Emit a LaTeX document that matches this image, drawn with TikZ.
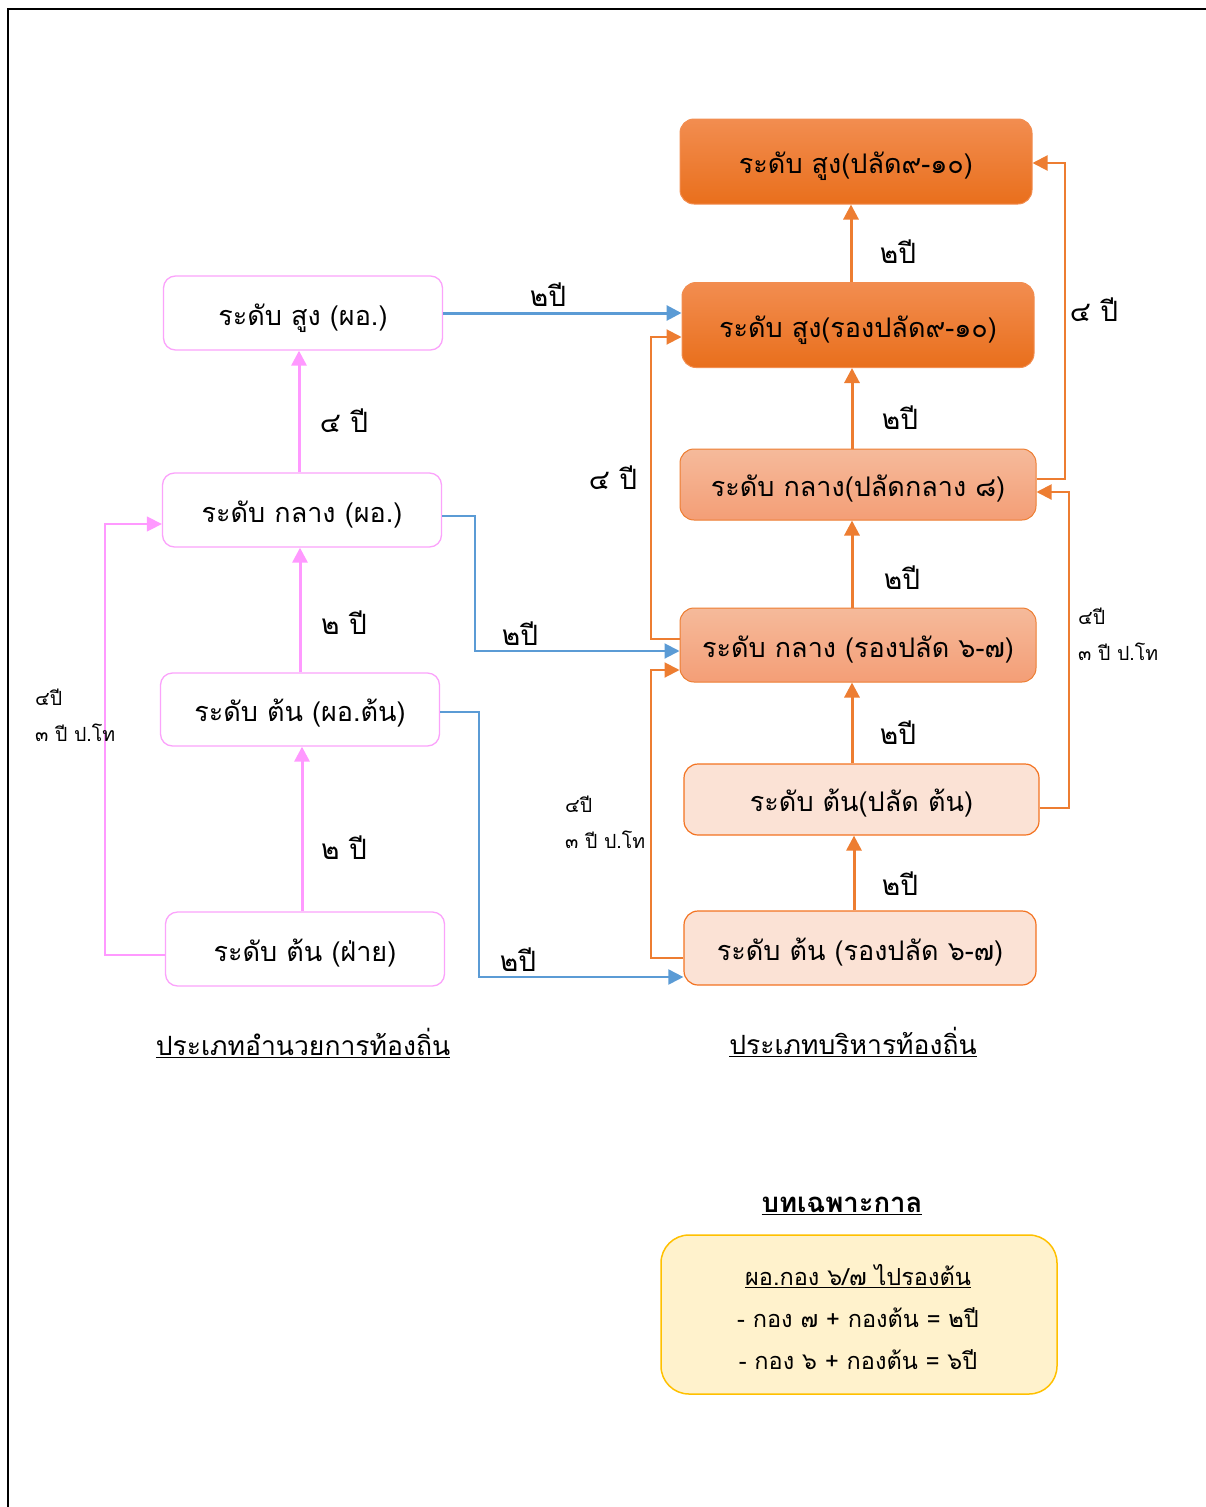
\documentclass[tikz,border=0pt]{standalone}
\usepackage{fontspec}
\setmainfont[Script=Thai]{Loma}
\usetikzlibrary{arrows.meta,shadings}
\definecolor{pinkline}{HTML}{FF99FF}
\definecolor{pinkbord}{HTML}{FBA3FB}
\definecolor{bluec}{HTML}{5B9BD5}
\definecolor{orc}{HTML}{ED7D31}
\definecolor{dtop}{HTML}{F28D50}
\definecolor{dbot}{HTML}{E96F1C}
\definecolor{mtop}{HTML}{F5BA9B}
\definecolor{mbot}{HTML}{F49E76}
\definecolor{lfill}{HTML}{FBE2D5}
\definecolor{lbord}{HTML}{F37321}
\definecolor{gfill}{HTML}{FFF2CC}
\definecolor{gbord}{HTML}{FFC000}
\tikzset{
  boxtext/.style={font=\fontsize{27}{32}\selectfont},
  leftbox/.style={boxtext, draw=pinkbord, line width=1.3pt, fill=white, rounded corners=12pt,
    minimum width=279pt, minimum height=74pt, inner sep=0pt},
  darkbox/.style={boxtext, draw=dtop, line width=1pt, top color=dtop, bottom color=dbot,
    rounded corners=14pt, minimum width=352pt, minimum height=85pt, inner sep=0pt},
  midbox/.style={boxtext, draw=orc, line width=1pt, top color=mtop, bottom color=mbot,
    rounded corners=14pt, minimum width=356pt, inner sep=0pt},
  lightbox/.style={boxtext, draw=lbord, line width=1.2pt, fill=lfill,
    rounded corners=14pt, minimum width=355pt, inner sep=0pt},
  lab/.style={font=\fontsize{28}{32}\selectfont, inner sep=0pt},
  smalllab/.style={font=\fontsize{19.5}{36}\selectfont, align=left, anchor=west, inner sep=0pt},
  tip/.style={-{Triangle[length=15pt,width=15pt]}},
  pinkthick/.style={tip, draw=pinkline, line width=3pt},
  pinkthin/.style={tip, draw=pinkline, line width=1.5pt},
  bluethick/.style={tip, draw=bluec, line width=3pt},
  bluethin/.style={tip, draw=bluec, line width=2pt},
  orthick/.style={tip, draw=orc, line width=3pt},
  orthin/.style={tip, draw=orc, line width=2pt},
}
\newcommand{\bx}[1]{\raisebox{-12pt}[0pt][0pt]{#1}}
\begin{document}
\begin{tikzpicture}[x=1pt,y=-1pt]
\useasboundingbox (0,0) rectangle (1205,1507);
\draw[line width=2.5pt] (8,1508) -- (8,9) -- (1206,9);

% left column
\node[leftbox] (B1) at (303,313) {\bx{ระดับ สูง (ผอ.)}};
\node[leftbox] (B2) at (302,510) {\bx{ระดับ กลาง (ผอ.)}};
\node[leftbox, minimum height=73pt] (B3) at (300,709.5) {\bx{ระดับ ต้น (ผอ.ต้น)}};
\node[leftbox] (B4) at (305,949) {\bx{ระดับ ต้น (ฝ่าย)}};

% right column
\node[darkbox, minimum width=352pt] (R1) at (856,161.5) {\bx{ระดับ สูง(ปลัด๙-๑๐)}};
\node[darkbox] (R2) at (858,325) {\bx{ระดับ สูง(รองปลัด๙-๑๐)}};
\node[midbox, minimum height=71pt] (R3) at (858,484.5) {\bx{ระดับ กลาง(ปลัดกลาง ๘)}};
\node[midbox, minimum height=74pt] (R4) at (858,645) {\bx{ระดับ กลาง (รองปลัด ๖-๗)}};
\node[lightbox, minimum height=71pt] (R5) at (861.5,799.5) {\bx{ระดับ ต้น(ปลัด ต้น)}};
\node[lightbox, minimum width=352pt, minimum height=74pt] (R6) at (860,948) {\bx{ระดับ ต้น (รองปลัด ๖-๗)}};

% connector end points on the boxes
\coordinate (pS) at ([yshift=-6pt]B4.west);
\coordinate (pE) at ([yshift=-14pt]B2.west);
\coordinate (b1S) at ([yshift=-6pt]B2.east);
\coordinate (b1E) at ([yshift=-6pt]R4.west);
\coordinate (b2S) at ([yshift=-2pt]B3.east);
\coordinate (b2E) at ([yshift=-29pt]R6.west);
\coordinate (o1S) at ([yshift=6pt]R3.east);
\coordinate (o1E) at ([yshift=-1.5pt]R1.east);
\coordinate (o2S) at ([yshift=-8pt]R5.east);
\coordinate (o2E) at ([yshift=-7.5pt]R3.east);
\coordinate (o3S) at ([yshift=6pt]R4.west);
\coordinate (o3E) at ([yshift=-12pt]R2.west);
\coordinate (o4S) at ([yshift=-10pt]R6.west);
\coordinate (o4E) at ([yshift=-25pt]R4.west);
% x positions of the vertical runs
\coordinate (PL) at (105,0);
\coordinate (BL1) at (475,0);
\coordinate (BL2) at (479,0);
\coordinate (OR1) at (1065,0);
\coordinate (OR2) at (1069,0);
\coordinate (OL) at (651,0);

% pink connectors
\draw[pinkthick] ([xshift=-3pt]B2.north) -- ([xshift=-3pt]B2.north |- B1.south);
\draw[pinkthick] (B3.north) -- (B3.north |- B2.south);
\draw[pinkthick] ([xshift=-3pt]B4.north) -- ([xshift=-3pt]B4.north |- B3.south);
\draw[pinkthin] (pS) -| (PL |- pE) -- (pE);
\node[lab] (l1) at (344,421) {๔ ปี};
\node[lab] (l2) at (344,623) {๒ ปี};
\node[lab] (l3) at (344,848) {๒ ปี};
\node[smalllab] (l4) at (35,715) {๔ปี\\๓ ปี ป.โท};

% blue connectors
\draw[bluethick] (B1.east) -- ([yshift=12pt]R2.west);
\draw[bluethin] (b1S) -| (BL1 |- b1E) -- (b1E);
\draw[bluethin] (b2S) -| (BL2 |- b2E) -- (b2E);
\node[lab] (l5) at (548,295) {๒ปี};
\node[lab] (l6) at (520,634) {๒ปี};
\node[lab] (l7) at (518,960) {๒ปี};

% orange vertical connectors
\draw[orthick] ([xshift=-7pt]R2.north) -- ([xshift=-7pt]R2.north |- R1.south);
\draw[orthick] ([xshift=-6pt]R3.north) -- ([xshift=-6pt]R3.north |- R2.south);
\draw[orthick] ([xshift=-6pt]R4.north) -- ([xshift=-6pt]R4.north |- R3.south);
\draw[orthick] ([xshift=-9.5pt]R5.north) -- ([xshift=-9.5pt]R5.north |- R4.south);
\draw[orthick] ([xshift=-6pt]R6.north) -- ([xshift=-6pt]R6.north |- R5.south);
\node[lab] (l8) at (898,252) {๒ปี};
\node[lab] (l9) at (900,418) {๒ปี};
\node[lab] (l10) at (902,578) {๒ปี};
\node[lab] (l11) at (898,733) {๒ปี};
\node[lab] (l12) at (900,884) {๒ปี};

% orange side connectors
\draw[orthin] (o1S) -| (OR1 |- o1E) -- (o1E);
\draw[orthin] (o2S) -| (OR2 |- o2E) -- (o2E);
\draw[orthin] (o3S) -| (OL |- o3E) -- (o3E);
\draw[orthin] (o4S) -| (OL |- o4E) -- (o4E);
\node[lab] (l13) at (1094,310) {๔ ปี};
\node[lab] (l14) at (613,478) {๔ ปี};
\node[smalllab] (l15) at (565,822) {๔ปี\\๓ ปี ป.โท};
\node[smalllab] (l16) at (1078,634) {๔ปี\\๓ ปี ป.โท};

% headers
\node[font=\fontsize{26.5}{30}\selectfont, inner sep=0pt] (h1) at (303,1043) {\underline{ประเภทอำนวยการท้องถิ่น}};
\node[font=\fontsize{26.5}{30}\selectfont, inner sep=0pt] (h2) at (853,1042) {\underline{ประเภทบริหารท้องถิ่น}};

% legend
\node[font=\fontsize{27.5}{32}\selectfont\bfseries, inner sep=0pt] (lt) at (842,1206) {\underline{บทเฉพาะกาล}};
\node[draw=gbord, line width=1.5pt, fill=gfill, rounded corners=28pt,
  minimum width=396pt, minimum height=159pt, inner sep=0pt] (lg) at (859,1314.5) {};
\node[font=\fontsize{23.5}{28}\selectfont, inner sep=0pt] (g1) at (858,1276) {\underline{ผอ.กอง ๖/๗ ไปรองต้น}};
\node[font=\fontsize{23.5}{28}\selectfont, inner sep=0pt] (g2) at (858,1318) {- กอง ๗ + กองต้น = ๒ปี};
\node[font=\fontsize{23.5}{28}\selectfont, inner sep=0pt] (g3) at (858,1360) {- กอง ๖ + กองต้น = ๖ปี};
\end{tikzpicture}
\end{document}
